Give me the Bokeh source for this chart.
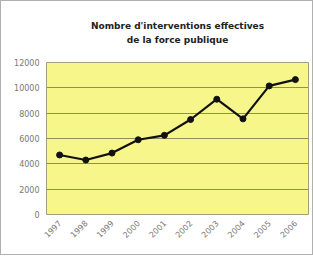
from bokeh.plotting import figure
from bokeh.models import Title, FixedTicker, Range1d, FactorRange
from bokeh.layouts import column
from bokeh.embed import file_html
from bokeh.resources import INLINE

years = ["1997", "1998", "1999", "2000", "2001", "2002", "2003", "2004", "2005", "2006"]
interventions = [4700, 4300, 4850, 5900, 6250, 7500, 9100, 7550, 10150, 10650]
y_ticks = [0, 2000, 4000, 6000, 8000, 10000, 12000]
title_lines = ["Nombre d'interventions effectives", "de la force publique"]

p = figure(width=311, height=253, x_range=FactorRange(*years), y_range=Range1d(0, 12000),
           output_backend="svg", toolbar_location=None,
           min_border_left=45, min_border_right=4, min_border_top=0, min_border_bottom=40)

# spacer, lines (added closest-to-plot first), spacer
p.add_layout(Title(text=" ", text_font_size="13px", standoff=0), "above")
for txt in reversed(title_lines):
    p.add_layout(Title(text=txt, align="center", text_font="DejaVu Sans", standoff=2,
                       text_font_style="bold", text_font_size="9px", text_color="#222222"), "above")
p.add_layout(Title(text=" ", text_font_size="12px", standoff=0), "above")

p.background_fill_color = "#f6f68a"
p.outline_line_color = "#a0a080"
p.xgrid.grid_line_color = None
p.ygrid.grid_line_color = "#8e8e5e"
p.ygrid.grid_line_width = 1

p.yaxis.ticker = FixedTicker(ticks=y_ticks)
for ax in (p.xaxis[0], p.yaxis[0]):
    ax.axis_line_color = None
    ax.major_tick_line_color = None
    ax.minor_tick_line_color = None
    ax.major_tick_out = 0
    ax.minor_tick_out = 0
    ax.major_label_text_font = "DejaVu Sans"
    ax.major_label_text_font_size = "8px"
    ax.major_label_text_color = "#777777"
p.xaxis.major_label_orientation = 0.785
p.yaxis.major_label_standoff = 7
p.xaxis.major_label_standoff = 7

p.line(years, interventions, line_color="#111111", line_width=2.2)
p.scatter(years, interventions, marker="circle", size=6, fill_color="#111111", line_color="#111111")

layout = column(p, styles={"border": "1px solid #b0b0b0"})
open("out.html", "w").write(file_html(layout, INLINE))
